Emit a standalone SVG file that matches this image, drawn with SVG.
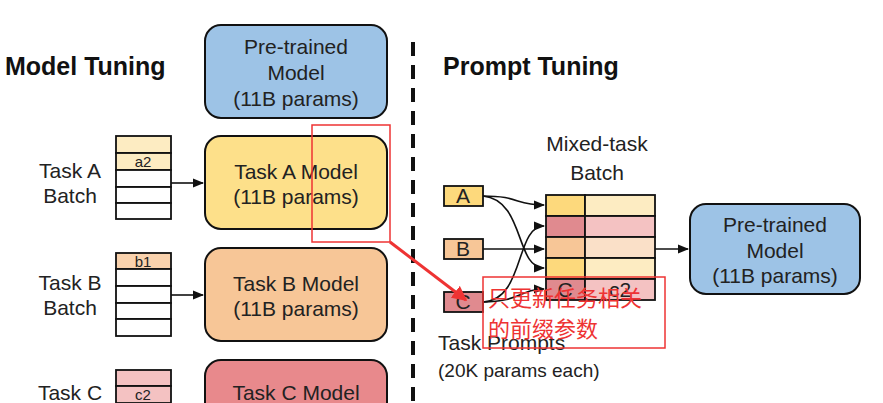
<svg xmlns="http://www.w3.org/2000/svg" width="883" height="403" viewBox="0 0 883 403">
<defs>
<style>
text{font-family:"Liberation Sans",Arial,sans-serif;fill:#222}
.t{font-size:21px}
.h{font-size:25px;font-weight:bold;fill:#111}
.s{font-size:15px}
.c{stroke:#111;stroke-width:1.6;fill:none}
.cell{stroke:#111;stroke-width:1.8}
</style>
<marker id="ar" viewBox="0 0 10 10" refX="9" refY="5" markerWidth="7" markerHeight="7" orient="auto"><path d="M0,1L10,5L0,9z" fill="#111"/></marker>
<marker id="rar" viewBox="0 0 10 10" refX="9" refY="5" markerWidth="5" markerHeight="5" orient="auto"><path d="M0,0L10,5L0,10z" fill="#e33"/></marker>
</defs>
<rect width="883" height="403" fill="#fff"/>
<text class="h" x="5" y="75">Model Tuning</text>
<text class="h" x="443" y="75">Prompt Tuning</text>
<line x1="413" y1="42" x2="413" y2="403" stroke="#111" stroke-width="4" stroke-dasharray="14,9"/>
<g id="pretrained-left"><rect x="205" y="25" width="182" height="93" rx="16" fill="#9dc3e6" stroke="#111" stroke-width="2"/>
<text class="t" x="296" y="54" text-anchor="middle">Pre-trained</text><text class="t" x="296" y="80" text-anchor="middle">Model</text><text class="t" x="296" y="106" text-anchor="middle">(11B params)</text></g>
<g id="taskA-batch"><text class="t" x="70" y="178" text-anchor="middle">Task A</text><text class="t" x="70" y="203" text-anchor="middle">Batch</text>
<rect class="cell" x="116" y="136" width="55" height="17" fill="#fdecc2"/><rect class="cell" x="116" y="153" width="55" height="17" fill="#fdecc2"/><rect class="cell" x="116" y="170" width="55" height="17" fill="#fff"/><rect class="cell" x="116" y="187" width="55" height="16" fill="#fff"/><rect class="cell" x="116" y="203" width="55" height="16" fill="#fff"/>
<text class="s" x="143" y="167" text-anchor="middle">a2</text></g>
<g id="taskA-model"><rect x="205" y="136" width="182" height="93" rx="16" fill="#fde08a" stroke="#111" stroke-width="2"/>
<text class="t" x="296" y="179" text-anchor="middle">Task A Model</text><text class="t" x="296" y="204" text-anchor="middle">(11B params)</text></g>
<g id="taskB-batch"><text class="t" x="70" y="290" text-anchor="middle">Task B</text><text class="t" x="70" y="315" text-anchor="middle">Batch</text>
<rect class="cell" x="116" y="253" width="55" height="16" fill="#f9d2ad"/><rect class="cell" x="116" y="269" width="55" height="17" fill="#fff"/><rect class="cell" x="116" y="286" width="55" height="17" fill="#fff"/><rect class="cell" x="116" y="303" width="55" height="16" fill="#fff"/><rect class="cell" x="116" y="319" width="55" height="17" fill="#fff"/>
<text class="s" x="143" y="267" text-anchor="middle">b1</text></g>
<g id="taskB-model"><rect x="205" y="248" width="182" height="93" rx="16" fill="#f7c697" stroke="#111" stroke-width="2"/>
<text class="t" x="296" y="291" text-anchor="middle">Task B Model</text><text class="t" x="296" y="316" text-anchor="middle">(11B params)</text></g>
<g id="taskC-batch"><text class="t" x="70" y="400" text-anchor="middle">Task C</text>
<rect class="cell" x="116" y="370" width="55" height="16" fill="#f4c2c2"/><rect class="cell" x="116" y="386" width="55" height="17" fill="#f4c2c2"/>
<text class="s" x="143" y="400" text-anchor="middle">c2</text></g>
<g id="taskC-model"><rect x="205" y="360" width="182" height="60" rx="16" fill="#e8898c" stroke="#111" stroke-width="2"/>
<text class="t" x="296" y="400" text-anchor="middle">Task C Model</text></g>
<g id="prompt-A"><rect x="444" y="186" width="39" height="20" fill="#fdd97c" stroke="#111" stroke-width="1.8"/><text class="t" x="463" y="203" text-anchor="middle">A</text></g>
<g id="prompt-B"><rect x="444" y="239" width="39" height="20" fill="#f7c697" stroke="#111" stroke-width="1.8"/><text class="t" x="463" y="256" text-anchor="middle">B</text></g>
<g id="prompt-C"><rect x="444" y="292" width="39" height="20" fill="#e08a8f" stroke="#111" stroke-width="1.8"/><text class="t" x="463" y="309" text-anchor="middle">C</text></g>
<text class="t" x="438" y="350">Task Prompts</text>
<text x="438" y="377" style="font-size:19px">(20K params each)</text>
<g id="mixed-batch"><text class="t" x="597" y="151" text-anchor="middle">Mixed-task</text><text class="t" x="597" y="180" text-anchor="middle">Batch</text>
<rect class="cell" x="546" y="195" width="39" height="21" fill="#fdd97c"/><rect class="cell" x="585" y="195" width="70" height="21" fill="#fdecc2"/>
<rect class="cell" x="546" y="216" width="39" height="21" fill="#e08a8f"/><rect class="cell" x="585" y="216" width="70" height="21" fill="#f4c2c2"/>
<rect class="cell" x="546" y="237" width="39" height="21" fill="#f7c697"/><rect class="cell" x="585" y="237" width="70" height="21" fill="#fae0c8"/>
<rect class="cell" x="546" y="258" width="39" height="21" fill="#fdd97c"/><rect class="cell" x="585" y="258" width="70" height="21" fill="#fdecc2"/>
<rect class="cell" x="546" y="279" width="39" height="21" fill="#e08a8f"/><rect class="cell" x="585" y="279" width="70" height="21" fill="#f4c2c2"/>
<text class="t" x="565" y="297" text-anchor="middle">C</text><text class="t" x="620" y="297" text-anchor="middle">c2</text></g>
<g id="pretrained-right"><rect x="690" y="204" width="170" height="90" rx="16" fill="#9dc3e6" stroke="#111" stroke-width="2"/>
<text class="t" x="775" y="232" text-anchor="middle">Pre-trained</text><text class="t" x="775" y="258" text-anchor="middle">Model</text><text class="t" x="775" y="283" text-anchor="middle">(11B params)</text></g>
<g id="connectors">
<path class="c" d="M171,183H203" marker-end="url(#ar)"/>
<path class="c" d="M171,295H203" marker-end="url(#ar)"/>
<path class="c" d="M483,196C520,196 515,205 544,205" marker-end="url(#ar)"/>
<path class="c" d="M483,196C525,200 515,268 544,268" marker-end="url(#ar)"/>
<path class="c" d="M483,249H544" marker-end="url(#ar)"/>
<path class="c" d="M483,302C525,300 515,226 544,226" marker-end="url(#ar)"/>
<path class="c" d="M483,302C520,302 520,289 544,289" marker-end="url(#ar)"/>
<path class="c" d="M655,249H688" marker-end="url(#ar)"/>
</g>
<g id="annotation">
<rect x="312" y="125" width="78" height="117" fill="none" stroke="#e33" stroke-width="1.5"/>
<line x1="390" y1="242" x2="466" y2="300" stroke="#e33" stroke-width="3" marker-end="url(#rar)"/>
<rect x="483" y="277" width="182" height="71" fill="none" stroke="#e33" stroke-width="1.5"/>
<text x="488" y="306" style="font-family:'Noto Sans CJK SC',sans-serif;font-size:22px;fill:#e33">只更新任务相关</text>
<text x="488" y="337" style="font-family:'Noto Sans CJK SC',sans-serif;font-size:22px;fill:#e33">的前缀参数</text>
</g>
</svg>
